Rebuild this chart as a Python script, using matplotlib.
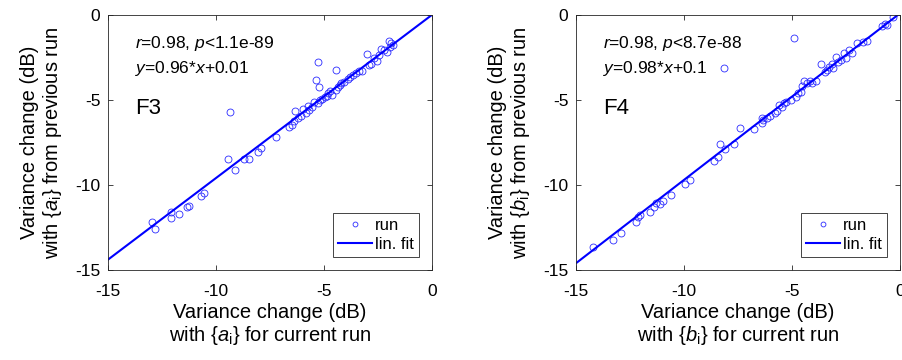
import matplotlib
matplotlib.use("Agg")
import matplotlib.pyplot as plt
import numpy as np

plt.rcParams['font.family'] = ['Liberation Sans', 'DejaVu Sans']
plt.rcParams['mathtext.fontset'] = 'custom'
plt.rcParams['mathtext.rm'] = 'Liberation Sans'
plt.rcParams['mathtext.it'] = 'Liberation Sans:italic'
plt.rcParams['mathtext.bf'] = 'Liberation Sans:bold'

# ---- data: F3 ({a_i}) ----
f3_x = [-12.98, -12.81, -12.08, -12.08, -11.70, -11.36, -11.27, -10.69, -10.57, -9.43,
        -9.10, -9.35, -8.69, -8.46, -8.04, -7.90, -7.22, -6.60, -6.50, -6.37,
        -6.33, -6.22, -6.06, -5.99, -5.83, -5.76, -5.68, -5.57, -5.48, -5.37,
        -5.26, -5.23, -5.29, -5.19, -5.09, -4.95, -4.86, -4.80, -4.72, -4.63,
        -4.46, -4.44, -4.37, -4.26, -4.21, -4.06, -3.90, -3.78, -3.67, -3.52,
        -3.36, -3.26, -3.01, -2.90, -2.82, -2.67, -2.55, -2.44, -2.36, -2.21,
        -2.10, -1.98, -1.93, -1.90, -1.82]
f3_y = [-12.20, -12.61, -11.59, -11.94, -11.73, -11.31, -11.24, -10.65, -10.45, -8.49,
        -9.12, -5.73, -8.45, -8.49, -8.06, -7.80, -7.20, -6.61, -6.49, -6.22,
        -5.65, -6.08, -5.92, -5.51, -5.75, -5.35, -5.59, -5.39, -5.10, -3.82,
        -2.75, -4.25, -5.16, -5.00, -4.94, -4.84, -4.76, -4.61, -4.45, -4.71,
        -3.24, -4.41, -4.25, -4.12, -3.98, -3.92, -3.75, -3.63, -3.53, -3.39,
        -3.27, -3.31, -2.31, -2.94, -2.88, -2.55, -2.69, -2.35, -1.98, -2.06,
        -2.16, -1.51, -1.86, -1.67, -1.76]
f3_slope, f3_intercept = 0.96, 0.01
f3_stats = [r'$\it{r}$=0.98, $\it{p}$<1.1e-89', r'$\it{y}$=0.96*$\it{x}$+0.01']

# ---- data: F4 ({b_i}) ----
f4_x = [-14.21, -13.27, -12.90, -12.22, -12.11, -12.05, -11.57, -11.39, -11.30, -11.11,
        -10.99, -10.60, -9.94, -9.74, -8.61, -8.41, -8.33, -8.10, -8.15, -7.69,
        -7.42, -6.74, -6.37, -6.34, -6.40, -6.14, -6.02, -5.80, -5.68, -5.60,
        -5.48, -5.37, -5.29, -5.06, -4.89, -4.83, -4.72, -4.60, -4.52, -4.44,
        -4.29, -4.17, -4.06, -3.90, -3.64, -3.49, -3.40, -3.29, -3.16, -3.10,
        -2.95, -2.85, -2.72, -2.59, -2.52, -2.36, -2.24, -2.01, -1.73, -1.51,
        -0.82, -0.71, -0.62, -0.31]
f4_y = [-13.65, -13.22, -12.84, -12.20, -11.86, -11.78, -11.59, -11.27, -11.04, -11.14,
        -10.96, -10.59, -9.94, -9.73, -8.61, -8.35, -7.57, -7.88, -3.12, -7.61,
        -6.63, -6.71, -6.37, -6.18, -6.04, -6.08, -5.94, -5.75, -5.63, -5.29,
        -5.39, -5.20, -5.10, -5.00, -1.37, -4.80, -4.61, -4.51, -4.18, -3.86,
        -4.02, -3.86, -4.02, -3.88, -2.90, -3.33, -3.24, -3.08, -2.88, -3.14,
        -2.45, -2.75, -2.65, -2.25, -2.55, -2.06, -2.22, -1.67, -1.57, -1.51,
        -0.65, -0.55, -0.59, -0.10]
f4_slope, f4_intercept = 0.98, 0.1
f4_stats = [r'$\it{r}$=0.98, $\it{p}$<8.7e-88', r'$\it{y}$=0.98*$\it{x}$+0.1']

ticks = [-15, -10, -5, 0]
tick_labels = ['-15', '-10', '-5', '0']
limits = (-15, 0)

W, H = 903, 360
fig = plt.figure(figsize=(W / 100, H / 100), dpi=100)

panels = [
    dict(rect=[108, 15, 324, 255], x=f3_x, y=f3_y, m=f3_slope, b=f3_intercept,
         stats=f3_stats, name='F3', var='a'),
    dict(rect=[576, 15, 324, 255], x=f4_x, y=f4_y, m=f4_slope, b=f4_intercept,
         stats=f4_stats, name='F4', var='b'),
]

spine_col = '#262626'
for p in panels:
    l, t, w, h = p['rect']
    ax = fig.add_axes([l / W, 1 - (t + h) / H, w / W, h / H])
    ax.plot(p['x'], p['y'], linestyle='none', marker='o', markersize=5.0,
            markerfacecolor='none', markeredgecolor='#2a2aff', markeredgewidth=0.6,
            label='run')
    xf = np.array(limits, dtype=float)
    ax.plot(xf, p['m'] * xf + p['b'], color='#0000ff', linewidth=1.5, label='lin. fit')
    ax.set_xlim(limits)
    ax.set_ylim(limits)
    ax.set_xticks(ticks)
    ax.set_xticklabels(tick_labels)
    ax.set_yticks(ticks)
    ax.set_yticklabels(tick_labels)
    ax.tick_params(direction='in', length=3.5, width=0.6, color=spine_col,
                   top=True, right=True, labelsize=12.5, colors='black')
    ax.tick_params(axis='x', pad=10)
    ax.tick_params(axis='y', pad=5.5)
    for s in ax.spines.values():
        s.set_color(spine_col)
        s.set_linewidth(0.6)
    v = p['var']
    ax.set_xlabel('Variance change (dB)\nwith {$\\it{%s}_{\\rm i}$} for current run' % v,
                  fontsize=14.5, linespacing=1.12, labelpad=3)
    ax.set_ylabel('Variance change (dB)\nwith {$\\it{%s}_{\\rm i}$} from previous run' % v,
                  fontsize=14.5, linespacing=1.12, labelpad=8)
    ax.text(0.083, 0.869, p['stats'][0], transform=ax.transAxes, fontsize=12.5,
            ha='left', va='baseline')
    ax.text(0.083, 0.771, p['stats'][1], transform=ax.transAxes, fontsize=12.5,
            ha='left', va='baseline')
    ax.text(0.083, 0.612, p['name'], transform=ax.transAxes, fontsize=16,
            ha='left', va='baseline')
    leg = ax.legend(loc='lower right', bbox_to_anchor=(0.96, 0.05), borderaxespad=0,
                    fontsize=12, fancybox=False, framealpha=1, edgecolor=spine_col,
                    handlelength=2.0, handletextpad=0.2, borderpad=0.3,
                    labelspacing=0.25)
    leg.get_frame().set_linewidth(0.6)
    leg.legend_handles[0].set_markersize(3.5)

fig.savefig('out.png', dpi=100)
